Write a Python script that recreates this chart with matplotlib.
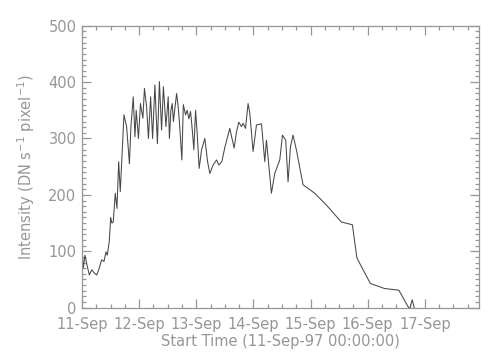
import matplotlib
matplotlib.use("Agg")
import matplotlib.pyplot as plt
from matplotlib.ticker import MultipleLocator, FixedLocator

# time in days since 11-Sep-97 00:00:00
days = [0.000, 0.023, 0.052, 0.093, 0.128, 0.170, 0.210, 0.257, 0.302, 0.344,
        0.385, 0.420, 0.442, 0.477, 0.502, 0.524, 0.547, 0.582, 0.612, 0.642,
        0.670, 0.705, 0.734, 0.781, 0.830, 0.857, 0.897, 0.927, 0.949, 0.988,
        1.023, 1.066, 1.093, 1.131, 1.163, 1.201, 1.236, 1.276, 1.320, 1.355,
        1.393, 1.425, 1.469, 1.509, 1.530, 1.556, 1.579, 1.600, 1.656, 1.684,
        1.713, 1.748, 1.774, 1.813, 1.841, 1.871, 1.900, 1.928, 1.958, 1.988,
        2.016, 2.051, 2.093, 2.150, 2.198, 2.238, 2.295, 2.355, 2.395, 2.448,
        2.500, 2.587, 2.663, 2.705, 2.745, 2.792, 2.820, 2.862, 2.907, 2.937,
        2.995, 3.054, 3.142, 3.199, 3.229, 3.316, 3.374, 3.462, 3.509, 3.566,
        3.607, 3.649, 3.694, 3.753, 3.869, 4.073, 4.278, 4.540, 4.733, 4.813,
        5.047, 5.297, 5.547, 5.734, 5.781, 5.822]

intensity = [105, 70, 93, 73, 58, 67, 62, 58, 70, 85,
             82, 99, 93, 117, 160, 150, 152, 203, 176, 259,
             206, 280, 342, 321, 255, 322, 374, 303, 350, 300,
             362, 336, 389, 356, 300, 374, 300, 395, 291, 401,
             315, 392, 321, 374, 300, 350, 362, 330, 380, 356,
             318, 262, 360, 342, 350, 335, 348, 318, 280, 350,
             309, 247, 280, 300, 259, 238, 253, 262, 253, 259,
             284, 318, 283, 312, 329, 321, 327, 318, 362, 345,
             277, 324, 326, 259, 297, 203, 238, 262, 306, 297,
             223, 285, 306, 280, 218, 203, 182, 152, 147, 88,
             43, 34, 31, -3, 14, -3]

xtick_pos = [0, 1, 2, 3, 4, 5, 6]
xtick_labels = ["11-Sep", "12-Sep", "13-Sep", "14-Sep", "15-Sep", "16-Sep", "17-Sep"]
ytick_pos = [0, 100, 200, 300, 400, 500]

gray = "#969696"
fig = plt.figure(figsize=(5.04, 3.6), dpi=100)
ax = fig.add_axes([0.1627, 0.1453, 0.7873, 0.7833])
ax.plot(days, intensity, color="#474747", lw=0.75)
ax.set_xlim(0, 6.946)
ax.set_ylim(0, 500)

ax.xaxis.set_major_locator(FixedLocator(xtick_pos))
ax.set_xticklabels(xtick_labels)
ax.xaxis.set_minor_locator(MultipleLocator(0.25))
ax.yaxis.set_major_locator(FixedLocator(ytick_pos))
ax.yaxis.set_minor_locator(MultipleLocator(10))

for s in ax.spines.values():
    s.set_color(gray)
    s.set_linewidth(0.9)
ax.tick_params(which="both", direction="in", top=True, right=True, colors=gray,
               labelcolor=gray, labelsize=10.5, width=0.9)
ax.tick_params(which="major", length=6.2)
ax.tick_params(which="minor", length=3.1)
ax.tick_params(axis="x", which="major", pad=7)
ax.tick_params(axis="y", which="major", pad=4)

ax.set_xlabel("Start Time (11-Sep-97 00:00:00)", color=gray, fontsize=10.5, labelpad=1)
ax.set_ylabel("Intensity (DN s$^{-1}$ pixel$^{-1}$)", color=gray, fontsize=10.5, labelpad=8)

fig.savefig("out.png", dpi=100)
